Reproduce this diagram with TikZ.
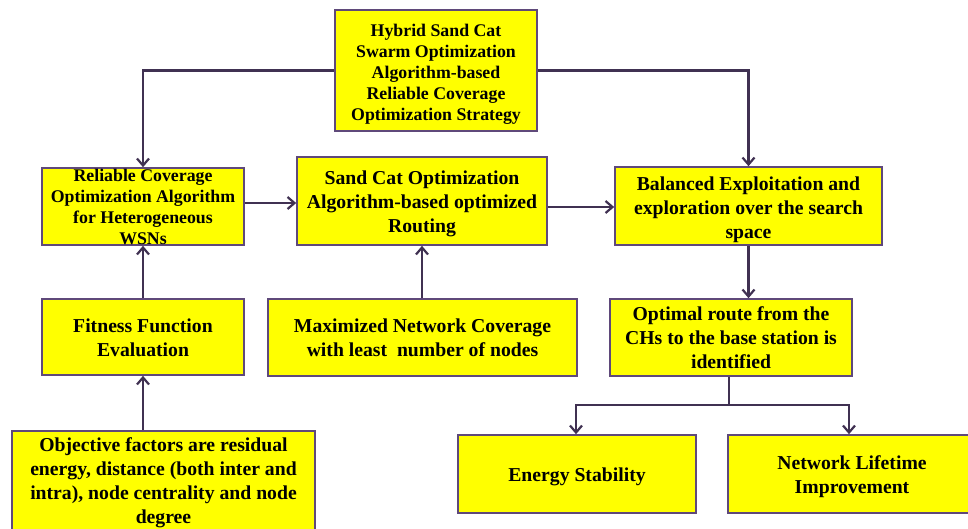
\documentclass[tikz,border=0pt]{standalone}
\usepackage{fontspec}
\setmainfont{Liberation Serif}
\usetikzlibrary{arrows.meta}
\definecolor{boxline}{HTML}{5F497A}
\definecolor{conn}{HTML}{403152}
\definecolor{boxfill}{HTML}{FFFF00}
\newcommand\dnstrut[1]{\rule{0pt}{\dimexpr\fontcharht\font`\d+#1\relax}}
\tikzset{
  blk/.style={draw=boxline, line width=1.6pt, fill=boxfill, inner sep=0pt, align=center,
    font=\fontsize{19.7}{24}\selectfont\bfseries},
  smallblk/.style={blk, font=\fontsize{17.8}{21}\selectfont\bfseries},
  arr/.style={draw=conn, line width=2.2pt, -{Straight Barb[length=7pt,width=12pt,line width=2.2pt]}},
  ln/.style={draw=conn, line width=2.2pt}
}
\begin{document}
\begin{tikzpicture}[x=1pt,y=-1pt]
\useasboundingbox (0,0) rectangle (968,528);
\node[smallblk, minimum width=202pt, minimum height=121pt] (top) at (436,70.5)
  {\dnstrut{8pt}Hybrid Sand Cat\\Swarm Optimization\\Algorithm-based\\Reliable Coverage\\Optimization Strategy};
\node[smallblk, minimum width=202pt, minimum height=77pt] (rc) at (143,206.5)
  {Reliable Coverage\\Optimization Algorithm\\for Heterogeneous\\WSNs};
\node[blk, minimum width=250pt, minimum height=88pt] (sc) at (422,201)
  {\dnstrut{7pt}Sand Cat Optimization\\Algorithm-based optimized\\Routing};
\node[blk, minimum width=267pt, minimum height=78pt] (be) at (748.5,206)
  {\dnstrut{8pt}Balanced Exploitation and\\exploration over the search\\space};
\node[blk, minimum width=202pt, minimum height=76pt] (ff) at (143,337)
  {\dnstrut{2pt}Fitness Function\\Evaluation};
\node[blk, minimum width=309pt, minimum height=77pt] (mn) at (422.5,337.5)
  {\dnstrut{1pt}Maximized Network Coverage\\with least\ \ number of nodes};
\node[blk, minimum width=242pt, minimum height=77pt] (or) at (731,337.5)
  {Optimal route from the\\CHs to the base station is\\identified};
\node[blk, minimum width=303pt, minimum height=100pt] (of) at (163.5,481)
  {\dnstrut{4pt}Objective factors are residual\\energy, distance (both inter and\\intra), node centrality and node\\degree};
\node[blk, minimum width=238pt, minimum height=78pt] (es) at (577,474)
  {\dnstrut{6pt}Energy Stability};
\node[blk, minimum width=248pt, minimum height=78pt] (nl) at (852,474)
  {\dnstrut{6pt}Network Lifetime\\Improvement};
\coordinate (j) at (729,405);
\draw[arr] (top.west) -| (rc.north);
\draw[arr] (top.east) -| (be.north);
\draw[arr] (rc.east |- 0,203) -- (sc.west |- 0,203);
\draw[arr] (sc.east |- 0,207) -- (be.west |- 0,207);
\draw[arr] (ff.north) -- (rc.south);
\draw[arr] (mn.north -| sc.south) -- (sc.south);
\draw[arr] (be.south) -- (be.south |- or.north);
\draw[arr] (ff.south |- of.north) -- (ff.south);
\draw[ln] (or.south -| j) -- (j);
\draw[arr] (j) -| (es.north -| 576,0);
\draw[arr] (j) -| (nl.north -| 849,0);
\end{tikzpicture}
\end{document}
